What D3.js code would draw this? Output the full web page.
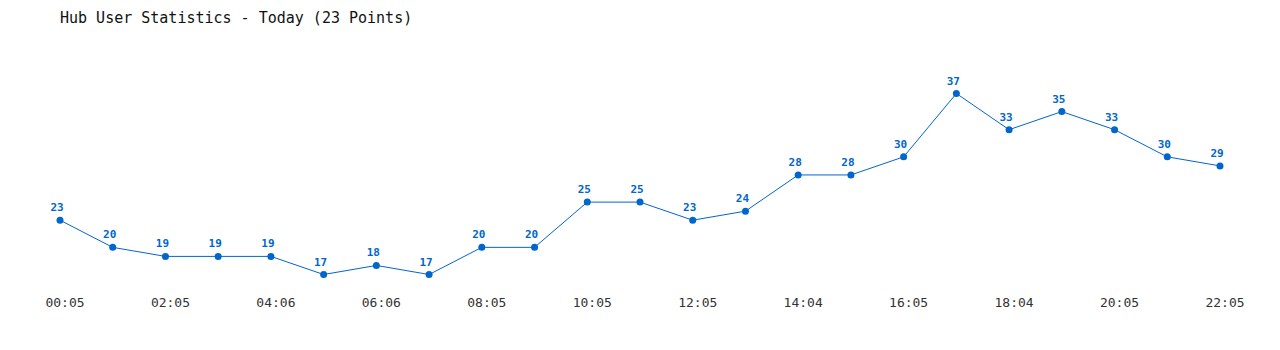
<!DOCTYPE html>
<html>
<head>
<meta charset="utf-8">
<script src="https://cdn.jsdelivr.net/npm/d3@7"></script>
<style>
  body { margin: 0; background: #fff; }
  svg { display: block; }
  .title { font: 15px "DejaVu Sans Mono", monospace; fill: #111; }
  .tick-label { font: 13px "DejaVu Sans Mono", monospace; fill: #333; }
  .value { font: bold 11px "DejaVu Sans Mono", monospace; fill: #0066cc; }
</style>
</head>
<body>
<svg id="chart" width="1280" height="350"></svg>
<script>
  var userCounts = [23, 20, 19, 19, 19, 17, 18, 17, 20, 20, 25, 25, 23, 24, 28, 28, 30, 37, 33, 35, 33, 30, 29];
  var tickLabels = ['00:05', '02:05', '04:06', '06:06', '08:05', '10:05', '12:05', '14:04', '16:05', '18:04', '20:05', '22:05'];
  var titleText = 'Hub User Statistics - Today (23 Points)';

  var $svg = d3.select('#chart');
  var lineColor = '#0066cc';

  var xScale = d3.scaleLinear()
    .domain([0, userCounts.length - 1])
    .range([60, 1220]);

  var yScale = d3.scaleLinear()
    .domain([d3.min(userCounts), d3.max(userCounts)])
    .range([274.5, 93.5]);

  $svg.append('text')
    .attr('class', 'title')
    .attr('x', 60)
    .attr('y', 23)
    .text(titleText);

  var line = d3.line()
    .x(function(d, i) { return xScale(i); })
    .y(function(d) { return yScale(d); });

  $svg.append('path')
    .datum(userCounts)
    .attr('d', line)
    .attr('fill', 'none')
    .attr('stroke', lineColor)
    .attr('stroke-width', 1);

  $svg.selectAll('circle.point')
    .data(userCounts)
    .enter()
    .append('circle')
    .attr('class', 'point')
    .attr('cx', function(d, i) { return xScale(i); })
    .attr('cy', function(d) { return yScale(d); })
    .attr('r', 3.5)
    .attr('fill', lineColor);

  $svg.selectAll('text.value')
    .data(userCounts)
    .enter()
    .append('text')
    .attr('class', 'value')
    .attr('text-anchor', 'middle')
    .attr('x', function(d, i) { return xScale(i) - 3; })
    .attr('y', function(d) { return yScale(d) - 9; })
    .text(function(d) { return d; });

  // time labels sit under every second point
  $svg.selectAll('text.tick-label')
    .data(tickLabels)
    .enter()
    .append('text')
    .attr('class', 'tick-label')
    .attr('text-anchor', 'middle')
    .attr('x', function(d, i) { return xScale(i * 2) + 5; })
    .attr('y', 307)
    .text(function(d) { return d; });
</script>
</body>
</html>
